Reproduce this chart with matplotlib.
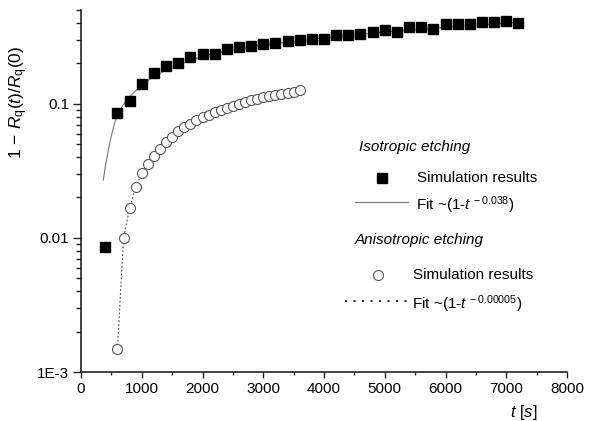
import matplotlib
matplotlib.use("Agg")
import matplotlib.pyplot as plt
from matplotlib.lines import Line2D

plt.rcParams['font.family'] = ['Liberation Sans', 'DejaVu Sans']
plt.rcParams['mathtext.fontset'] = 'custom'
plt.rcParams['mathtext.rm'] = 'Liberation Sans'
plt.rcParams['mathtext.it'] = 'Liberation Sans:italic'
plt.rcParams['mathtext.bf'] = 'Liberation Sans:bold'

# Isotropic etching: simulation results
t_iso = [400, 600, 800, 1000, 1200, 1400, 1600, 1800, 2000, 2200, 2400, 2600, 2800,
         3000, 3200, 3400, 3600, 3800, 4000, 4200, 4400, 4600, 4800, 5000, 5200,
         5400, 5600, 5800, 6000, 6200, 6400, 6600, 6800, 7000, 7200]
v_iso = [0.0086, 0.086, 0.105, 0.140, 0.169, 0.190, 0.201, 0.222, 0.235, 0.235, 0.256,
         0.263, 0.268, 0.279, 0.286, 0.295, 0.300, 0.305, 0.305, 0.327, 0.327, 0.333,
         0.343, 0.352, 0.343, 0.371, 0.371, 0.361, 0.393, 0.393, 0.393, 0.404, 0.404,
         0.416, 0.400]

# Isotropic etching: fit curve
t_iso_fit = [367, 400, 450, 500, 550, 600, 700, 800, 1000, 1200, 1500, 2000, 2500,
             3000, 4000, 5000, 6000, 7200]
v_iso_fit = [0.027, 0.034, 0.045, 0.058, 0.071, 0.083, 0.099, 0.113, 0.138, 0.160,
             0.188, 0.226, 0.252, 0.274, 0.310, 0.342, 0.372, 0.405]

# Anisotropic etching: simulation results
t_aniso = [600, 700, 800, 900, 1000, 1100, 1200, 1300, 1400, 1500, 1600, 1700, 1800,
           1900, 2000, 2100, 2200, 2300, 2400, 2500, 2600, 2700, 2800, 2900, 3000,
           3100, 3200, 3300, 3400, 3500, 3600]
v_aniso = [0.00148, 0.0100, 0.0167, 0.0239, 0.0304, 0.0357, 0.0410, 0.0460, 0.0515,
           0.0565, 0.0625, 0.0670, 0.0710, 0.0755, 0.0790, 0.0825, 0.0870, 0.0905,
           0.0935, 0.0965, 0.100, 0.103, 0.106, 0.109, 0.112, 0.114, 0.116, 0.119,
           0.121, 0.123, 0.126]

x_ticks = [0, 1000, 2000, 3000, 4000, 5000, 6000, 7000, 8000]
y_ticks = [0.001, 0.01, 0.1]
y_ticklabels = ['1E-3', '0.01', '0.1']

fig = plt.figure(figsize=(5.91, 4.21), dpi=100)
ax = fig.add_axes([81/591, 49/421, 486/591, 362/421])

ax.plot(t_iso_fit, v_iso_fit, '-', color='#777777', lw=0.8, zorder=2)
ax.plot(t_aniso, v_aniso, linestyle=(0, (1.5, 2.0)), color='#444444', lw=0.8, zorder=2)
ax.plot(t_iso, v_iso, 's', color='black', ms=7.6, mec='black', ls='none', zorder=3)
ax.plot(t_aniso, v_aniso, 'o', mfc='white', mec='#555555', mew=0.8, ms=7.2, ls='none', zorder=3)

ax.set_yscale('log')
ax.set_xlim(0, 8000)
ax.set_ylim(0.001, 0.5)
ax.set_xticks(x_ticks)
ax.set_xticks(range(500, 8000, 1000), minor=True)
ax.set_yticks(y_ticks)
ax.set_yticklabels(y_ticklabels)
ax.tick_params(which='major', direction='out', length=5.5, width=1, labelsize=11,
               color='#222222', pad=3)
ax.tick_params(which='minor', direction='out', length=3.5, width=1, color='#222222')
ax.tick_params(axis='x', which='major', length=4)
ax.tick_params(axis='x', which='minor', length=2.5)
for s in ['top', 'right']:
    ax.spines[s].set_visible(False)
for s in ['left', 'bottom']:
    ax.spines[s].set_linewidth(1.2)
    ax.spines[s].set_color('#222222')

ax.set_ylabel(r'$1\,-\,R_{\mathrm{q}}(t)/R_{\mathrm{q}}(0)$', fontsize=12.5)
ax.yaxis.set_label_coords(-0.105, 0.745)
fig.text(524/591, 9/421, r'$t$ [$s$]', fontsize=12, ha='center', va='center')

# custom legend block
tr = ax.transAxes
fs = 11
ax.text(0.572, 0.622, 'Isotropic etching', style='italic', fontsize=fs, transform=tr, va='center')
ax.plot([0.619], [0.536], 's', color='black', ms=7.6, transform=tr, clip_on=False)
ax.text(0.691, 0.536, 'Simulation results', fontsize=fs, transform=tr, va='center')
ax.add_line(Line2D([0.564, 0.673], [0.470, 0.470], color='#777777', lw=0.8, transform=tr))
ax.text(0.690, 0.462, r'Fit ~(1-$t^{\,-0.038}$)', fontsize=fs, transform=tr, va='center')
ax.text(0.564, 0.365, 'Anisotropic etching', style='italic', fontsize=fs, transform=tr, va='center')
ax.plot([0.611], [0.268], 'o', mfc='white', mec='#555555', mew=0.8, ms=7.2, transform=tr, clip_on=False)
ax.text(0.683, 0.268, 'Simulation results', fontsize=fs, transform=tr, va='center')
ax.add_line(Line2D([0.543, 0.671], [0.196, 0.196], color='#222222', lw=1.3,
                   linestyle=(0, (1.2, 3.5)), transform=tr))
ax.text(0.681, 0.188, r'Fit ~(1-$t^{\,-0.00005}$)', fontsize=fs, transform=tr, va='center')

fig.savefig('out.png', dpi=100)
